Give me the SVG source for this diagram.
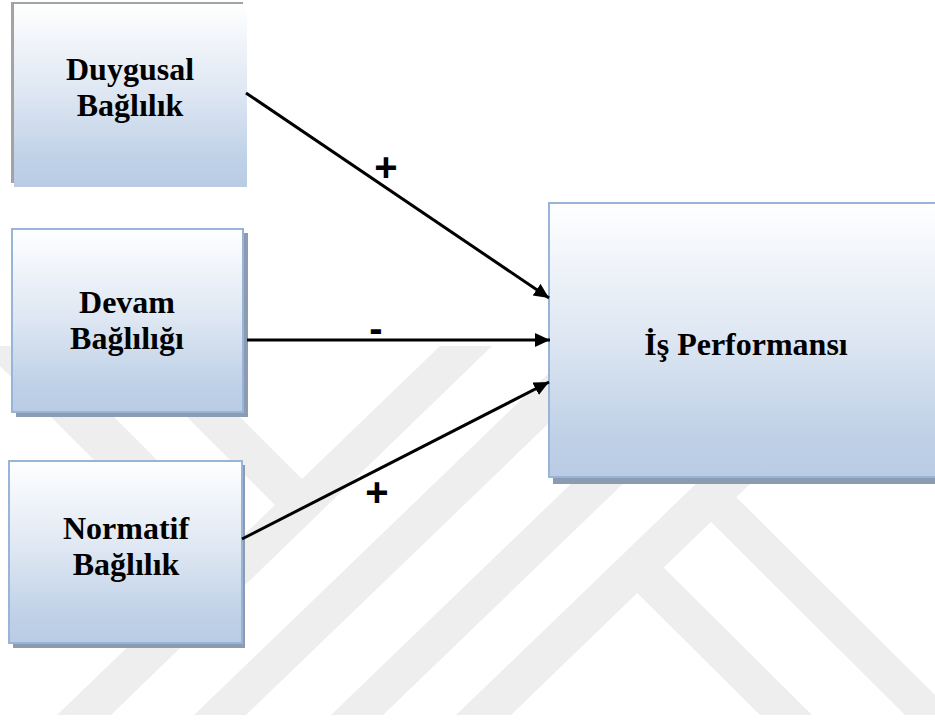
<svg xmlns="http://www.w3.org/2000/svg" width="935" height="720" viewBox="0 0 935 720">
  <defs>
    <linearGradient id="boxFill" x1="0" y1="0" x2="0" y2="1">
      <stop offset="0" stop-color="#ffffff"/>
      <stop offset="0.5" stop-color="#dde6f2"/>
      <stop offset="0.85" stop-color="#bfd1e7"/>
      <stop offset="1" stop-color="#b9cce4"/>
    </linearGradient>
    <marker id="arrow" markerUnits="userSpaceOnUse" markerWidth="16" markerHeight="15" refX="15" refY="7" orient="auto">
      <path d="M0,0 L15,7 L0,14 Z" fill="#000000"/>
    </marker>
    <style>
      .wm { fill: #eeeeee; }
      .shadow { fill: #8c9bb1; }
      .box { fill: url(#boxFill); stroke: #98b4d8; stroke-width: 2; }
      .label { font-family: "Liberation Serif", "Times New Roman", serif; font-weight: bold; font-size: 32px; fill: #000000; text-anchor: middle; }
      .sign { font-family: "Liberation Sans", Arial, sans-serif; font-weight: bold; font-size: 40px; fill: #000000; text-anchor: middle; }
      .edge { stroke: #000000; stroke-width: 3; fill: none; marker-end: url(#arrow); }
    </style>
  </defs>

  <rect width="935" height="720" fill="#ffffff"/>

  <g id="watermark">
    <polygon class="wm" points="440,346 492,346 111,715 57,715"/>
    <polygon class="wm" points="577,346 629,346 246,715 194,715"/>
    <polygon class="wm" points="714,346 766,346 383,715 331,715"/>
    <polygon class="wm" points="839,346 893,346 511,715 456,715"/>
    <polygon class="wm" points="116,346 169,346 310,487 283,513"/>
    <polygon class="wm" points="-20,346 43,346 250,553 216,582"/>
    <polygon class="wm" points="622,578 648,552 812,715 760,715"/>
    <polygon class="wm" points="692,503 717,478 955,715 905,715"/>
  </g>

  <g id="node-duygusal">
    <rect x="14" y="3" width="233" height="184" fill="url(#boxFill)"/>
    <rect x="11" y="3" width="3" height="180" fill="#a3a3a3"/>
    <rect x="11" y="2" width="232" height="2" fill="#a3a3a3"/>
    <text class="label" x="130" y="80">Duygusal</text>
    <text class="label" x="130" y="116">Bağlılık</text>
  </g>

  <g id="node-devam">
    <rect class="shadow" x="16" y="233" width="232" height="184"/>
    <rect class="box" x="12" y="229" width="231" height="183"/>
    <text class="label" x="127" y="313">Devam</text>
    <text class="label" x="127" y="349">Bağlılığı</text>
  </g>

  <g id="node-normatif">
    <rect class="shadow" x="13" y="465" width="232" height="183"/>
    <rect class="box" x="9" y="461" width="233" height="182"/>
    <text class="label" x="126" y="539">Normatif</text>
    <text class="label" x="126" y="575">Bağlılık</text>
  </g>

  <g id="node-is-performansi">
    <rect class="shadow" x="553" y="207" width="400" height="277"/>
    <rect class="box" x="549" y="203" width="400" height="274"/>
    <text class="label" x="746" y="355">İş Performansı</text>
  </g>

  <g id="connectors">
    <line class="edge" x1="246" y1="93" x2="549" y2="298"/>
    <line class="edge" x1="247" y1="340" x2="550" y2="340"/>
    <line class="edge" x1="242" y1="539" x2="549" y2="382"/>
    <text class="sign" x="386" y="181">+</text>
    <text class="sign" x="376" y="342">-</text>
    <text class="sign" x="377" y="506">+</text>
  </g>
</svg>
